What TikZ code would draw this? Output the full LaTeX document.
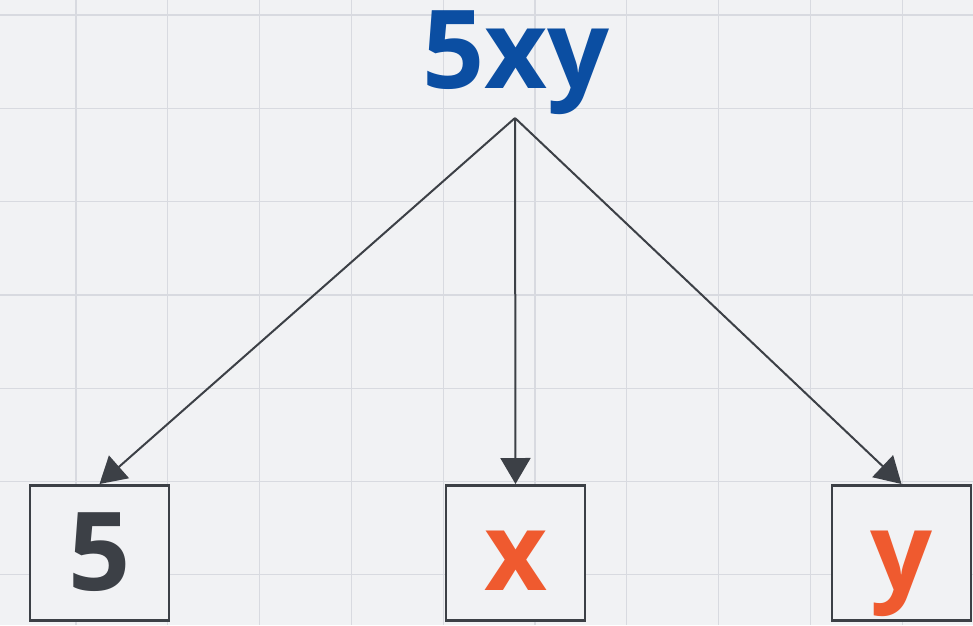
\documentclass[tikz,border=0pt]{standalone}
\usepackage{fontspec}
\setmainfont{Open Sans}
\usetikzlibrary{arrows.meta}
\definecolor{bg}{HTML}{F1F2F4}
\definecolor{gridc}{HTML}{D8DAE0}
\definecolor{inkc}{HTML}{3C4046}
\definecolor{bluec}{HTML}{0B4EA2}
\definecolor{orangec}{HTML}{EF5A2F}
\tikzset{
  leafbox/.style={draw=inkc, line width=2.5pt, fill=bg, inner sep=0pt,
    minimum width=139pt, text height=105pt, text depth=30pt,
    font=\fontsize{109}{109}\bfseries},
  branch/.style={draw=inkc, line width=2pt, -{Triangle[length=26pt,width=30pt]}},
  gridline/.style={draw=gridc, line width=1.3pt}
}
\begin{document}
\begin{tikzpicture}[x=1pt,y=-1pt]
\fill[bg] (0,0) rectangle (973,625);
\useasboundingbox (0,0) rectangle (973,625);
\foreach \k in {0,...,9} \draw[gridline] (76+91.8*\k,0) -- (76+91.8*\k,625);
\foreach \k in {0,...,6} \draw[gridline] (0,15+93.3*\k) -- (973,15+93.3*\k);
\node[anchor=base, inner sep=0pt, text=bluec, font=\fontsize{109}{109}\bfseries] (root) at (516,88) {5xy};
\coordinate (apex) at (515,118);
\node[leafbox, text=inkc, anchor=north] (n5) at (99.5,484) {5};
\node[leafbox, text=orangec, anchor=north] (nx) at (515.5,484) {x};
\node[leafbox, text=orangec, anchor=north] (ny) at (901.5,484) {y};
\draw[branch] (apex) -- (n5.north);
\draw[branch] (apex) -- (nx.north);
\draw[branch] (apex) -- (ny.north);
\end{tikzpicture}
\end{document}
